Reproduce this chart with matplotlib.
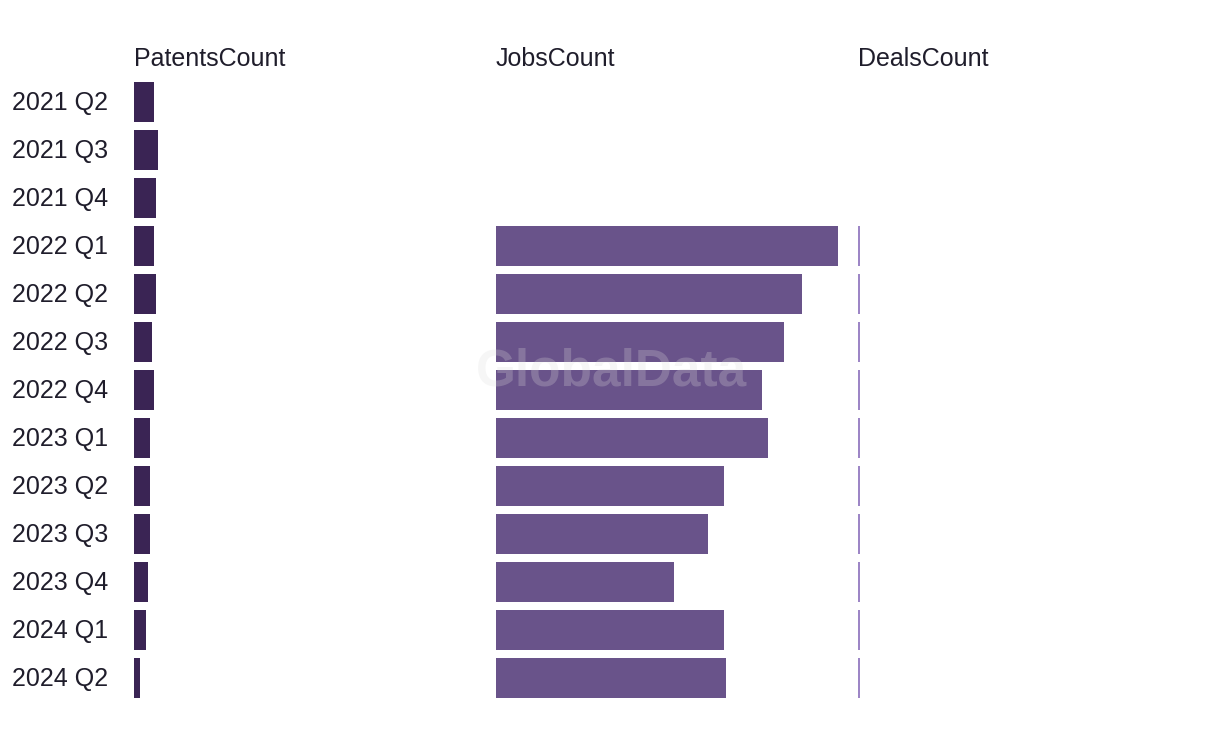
import numpy as np
import matplotlib.pyplot as plt

plt.rcParams['font.family'] = ['Liberation Sans', 'DejaVu Sans']

quarters = ['2021 Q2', '2021 Q3', '2021 Q4', '2022 Q1', '2022 Q2', '2022 Q3', '2022 Q4',
            '2023 Q1', '2023 Q2', '2023 Q3', '2023 Q4', '2024 Q1', '2024 Q2']
patents = [10, 12, 11, 10, 11, 9, 10, 8, 8, 8, 7, 6, 3]
jobs = [0, 0, 0, 171, 153, 144, 133, 136, 114, 106, 89, 114, 115]
deals = [0, 0, 0, 1, 1, 1, 1, 1, 1, 1, 1, 1, 1]

series = [('PatentsCount', patents, '#3a2454'),
          ('JobsCount', jobs, '#69538a'),
          ('DealsCount', deals, '#9d86c6')]

W, H = 1220, 740
fig = plt.figure(figsize=(W / 100, H / 100), dpi=100)

y = np.arange(len(quarters))
left0, panel_w = 134, 362
top, bottom = 78, 702
text_col = '#1f1d2b'

for i, (name, vals, col) in enumerate(series):
    ax = fig.add_axes([(left0 + i * panel_w) / W, 1 - bottom / H,
                       panel_w / W, (bottom - top) / H])
    ax.barh(y, vals, height=0.833, color=col, left=0)
    ax.set_xlim(0, 181)
    ax.set_ylim(len(quarters) - 0.5, -0.5)
    ax.axis('off')
    fig.text((left0 + i * panel_w) / W, 1 - 59 / H, name, fontsize=18,
             color=text_col, ha='left', va='center')

for k, q in enumerate(quarters):
    fig.text(12 / W, 1 - (103 + 48 * k) / H, q, fontsize=18, color=text_col,
             ha='left', va='center')

fig.text(611 / W, 1 - 372 / H, 'GlobalData', fontsize=37, fontweight='bold',
         color='#dddddd', alpha=0.25, ha='center', va='center', zorder=10)

fig.savefig('out.png', dpi=100)
